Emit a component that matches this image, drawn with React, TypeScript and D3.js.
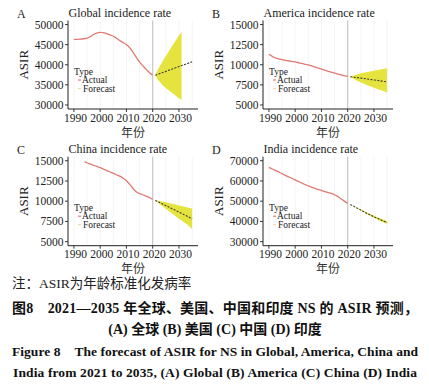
import React from "react";
import * as d3 from "d3";

// years
const actualYears = d3.range(1990, 2021);
const forecastYears = d3.range(2021, 2036);
const xTicks = [1990, 2000, 2010, 2020, 2030];
const gridYears = [1990, 1995, 2000, 2005, 2010, 2015, 2020, 2025, 2030, 2035];

// A Global
const globalActual = [46300, 46300, 46350, 46400, 46500, 46600, 46900, 47300, 47700, 47950, 48050, 48000, 47850, 47600, 47350, 47100, 46700, 46200, 45800, 45400, 45000, 44400, 43600, 42600, 41600, 40700, 39900, 39200, 38500, 37900, 37400];
const globalForecast = [37400, 37650, 37880, 38120, 38350, 38600, 38830, 39080, 39300, 39560, 39800, 40030, 40280, 40500, 40760];
const globalLower = [37400, 36300, 35500, 34800, 34200, 33700, 33200, 32700, 32200, 31700, 31200, 30700, 30200, 29700, 29200];
const globalUpper = [37400, 38800, 40000, 41100, 42200, 43200, 44300, 45300, 46300, 47300, 48200, 50200, 51300, 52400, 53500];

// B America
const usActual = [11300, 11100, 10900, 10800, 10700, 10650, 10580, 10500, 10450, 10400, 10350, 10280, 10200, 10130, 10050, 9980, 9880, 9780, 9680, 9570, 9470, 9360, 9250, 9150, 9050, 8950, 8860, 8780, 8700, 8620, 8540];
const usForecast = [8500, 8460, 8420, 8380, 8340, 8300, 8250, 8200, 8150, 8110, 8070, 8020, 7970, 7920, 7880];
const usLower = [8500, 8300, 8120, 7950, 7800, 7660, 7520, 7390, 7260, 7140, 7020, 6900, 6790, 6680, 6550];
const usUpper = [8500, 8620, 8740, 8840, 8930, 9000, 9080, 9140, 9200, 9260, 9320, 9380, 9440, 9500, 9560];

// C China
const cnActual = [15900, 15600, 15350, 15100, 14900, 14750, 14620, 14500, 14380, 14260, 14140, 14000, 13860, 13720, 13580, 13440, 13300, 13160, 13000, 12780, 12530, 12180, 11790, 11380, 11100, 10950, 10830, 10700, 10560, 10400, 10230];
const cnForecast = [10100, 9940, 9780, 9620, 9460, 9300, 9140, 8980, 8820, 8660, 8500, 8340, 8170, 7990, 7800];
const cnLower = [10100, 9830, 9570, 9310, 9060, 8810, 8560, 8320, 8080, 7840, 7600, 7370, 7140, 6880, 6550];
const cnUpper = [10100, 10050, 9990, 9930, 9860, 9790, 9720, 9640, 9560, 9480, 9400, 9320, 9240, 9160, 9100];

// D India
const inActual = [66700, 66100, 65500, 64900, 64300, 63600, 62900, 62300, 61700, 61100, 60500, 59900, 59300, 58700, 58100, 57600, 57100, 56600, 56100, 55700, 55300, 54900, 54500, 54100, 53700, 53200, 52500, 51600, 50700, 49800, 49000];
const inForecast = [48400, 47700, 47000, 46300, 45600, 44900, 44200, 43600, 42900, 42300, 41700, 41100, 40500, 40000, 39500];
const inLower = [48400, 47600, 46850, 46100, 45350, 44600, 43850, 43200, 42450, 41800, 41150, 40500, 39850, 39300, 38750];
const inUpper = [48400, 47800, 47150, 46500, 45850, 45200, 44550, 44000, 43350, 42800, 42250, 41700, 41150, 40700, 40250];

const SERIF = "'Liberation Serif', 'Times New Roman', serif";
const CJK = "'Liberation Serif', 'Noto Sans CJK SC', sans-serif";

const panels = [
  { label: "A", title: "Global incidence rate", x0: 68, x1: 198, y0: 20.5, y1: 109, lim: [30000, 50000], ticks: [30000, 35000, 40000, 45000, 50000], actual: globalActual, fc: globalForecast, lo: globalLower, hi: globalUpper },
  { label: "B", title: "America incidence rate", x0: 263, x1: 393, y0: 20.5, y1: 109, lim: [5000, 15000], ticks: [5000, 7500, 10000, 12500, 15000], actual: usActual, fc: usForecast, lo: usLower, hi: usUpper },
  { label: "C", title: "China incidence rate", x0: 68, x1: 198, y0: 156.7, y1: 245.7, lim: [5000, 15000], ticks: [5000, 7500, 10000, 12500, 15000], actual: cnActual, fc: cnForecast, lo: cnLower, hi: cnUpper },
  { label: "D", title: "India incidence rate", x0: 263, x1: 393, y0: 156.7, y1: 245.7, lim: [30000, 70000], ticks: [30000, 40000, 50000, 60000, 70000], actual: inActual, fc: inForecast, lo: inLower, hi: inUpper },
];

function Panel({ p }: { p: any }) {
  const x = d3.scaleLinear().domain([1987.75, 2037.25]).range([p.x0, p.x1]);
  const span = p.lim[1] - p.lim[0];
  const y = d3
    .scaleLinear()
    .domain([p.lim[0] - 0.05 * span, p.lim[1] + 0.05 * span])
    .range([p.y1, p.y0]);
  const inLim = (v: number) => v >= p.lim[0] && v <= p.lim[1];

  const actual = actualYears.map((yr, i) => ({ yr, v: p.actual[i] }));
  const fc = forecastYears.map((yr, i) => ({ yr, v: p.fc[i], lo: p.lo[i], hi: p.hi[i] }));

  const line = d3
    .line<any>()
    .defined((d) => inLim(d.v))
    .x((d) => x(d.yr))
    .y((d) => y(d.v))
    .curve(d3.curveMonotoneX);
  const band = d3
    .area<any>()
    .defined((d) => inLim(d.lo) && inLim(d.hi))
    .x((d) => x(d.yr))
    .y0((d) => y(d.lo))
    .y1((d) => y(d.hi));

  const lx = p.x0 + 6;
  const ly = p.y0 + 54;

  return (
    <g>
      {/* faint grid */}
      {gridYears.map((g) => (
        <line key={g} x1={x(g)} x2={x(g)} y1={p.y0} y2={p.y1} stroke="#f1f1f1" strokeWidth={0.8} />
      ))}
      <line x1={x(2020)} x2={x(2020)} y1={p.y0} y2={p.y1} stroke="#c4c4c4" strokeWidth={1.1} />

      <path d={band(fc) || ""} fill="#e3e12e" opacity={0.92} />
      <path d={line(actual) || ""} fill="none" stroke="#e07a72" strokeWidth={1.3} />
      <path d={line(fc) || ""} fill="none" stroke="#3b3b2a" strokeWidth={1.1} strokeDasharray="2,1.4" />

      {/* axes */}
      <line x1={p.x0} x2={p.x0} y1={p.y0} y2={p.y1} stroke="#222" strokeWidth={1} />
      <line x1={p.x0} x2={p.x1} y1={p.y1} y2={p.y1} stroke="#222" strokeWidth={1} />
      {p.ticks.map((t: number) => (
        <g key={t}>
          <line x1={p.x0 - 3} x2={p.x0} y1={y(t)} y2={y(t)} stroke="#222" strokeWidth={0.9} />
          <text x={p.x0 - 4.5} y={y(t)} dy="0.35em" textAnchor="end" fontSize={11.5} fontFamily={SERIF} fill="#222">
            {t}
          </text>
        </g>
      ))}
      {xTicks.map((t) => (
        <g key={t}>
          <line x1={x(t)} x2={x(t)} y1={p.y1} y2={p.y1 + 3} stroke="#222" strokeWidth={0.9} />
          <text x={x(t) + 1.5} y={p.y1 + 12.5} textAnchor="middle" fontSize={11.5} fontFamily={SERIF} fill="#222">
            {t}
          </text>
        </g>
      ))}

      {/* titles */}
      <text x={p.x0 - 51} y={p.y0 - 3} fontSize={12} fontFamily={SERIF} fill="#222">
        {p.label}
      </text>
      <text x={p.x0 + 0.5} y={p.y0 - 3.5} fontSize={12} fontFamily={SERIF} fill="#222">
        {p.title}
      </text>
      <text
        transform={`translate(${p.x0 - 40},${(p.y0 + p.y1) / 2}) rotate(-90)`}
        textAnchor="middle"
        fontSize={13}
        fontFamily={SERIF}
        fill="#222"
      >
        ASIR
      </text>
      <text x={(p.x0 + p.x1) / 2} y={p.y1 + 27.5} textAnchor="middle" fontSize={12} fontFamily={CJK} fill="#333">
        年份
      </text>

      {/* legend */}
      <text x={lx} y={ly} fontSize={9.5} fontFamily={SERIF} fill="#222">Type</text>
      <line x1={lx + 4} x2={lx + 7} y1={ly + 5.5} y2={ly + 5.5} stroke="#e07a72" strokeWidth={1.2} />
      <text x={lx + 8} y={ly + 8.5} fontSize={9.5} fontFamily={SERIF} fill="#222">Actual</text>
      <line x1={lx + 4} x2={lx + 7} y1={ly + 14} y2={ly + 14} stroke="#f1d9b0" strokeWidth={1.2} />
      <text x={lx + 9} y={ly + 17} fontSize={9.5} fontFamily={SERIF} fill="#222">Forecast</text>
    </g>
  );
}

export default function App() {
  return (
    <svg
      width={429}
      height={387}
      style={{ position: "absolute", left: 0, top: 0, background: "#fff" }}
    >
      <rect width={429} height={387} fill="#fff" />
      {panels.map((p) => (
        <Panel key={p.label} p={p} />
      ))}

      <text x={12} y={287.5} fontSize={13.5} fontFamily={CJK} fill="#222">
        注：ASIR为年龄标准化发病率
      </text>
      <text x={12} y={313} fontSize={14} fontWeight="bold" fontFamily={CJK} fill="#111" textLength={406} lengthAdjust="spacing">
        图8　2021—2035 年全球、美国、中国和印度 NS 的 ASIR 预测，
      </text>
      <text x={215} y={334} fontSize={14} fontWeight="bold" fontFamily={CJK} fill="#111" textAnchor="middle">
        (A) 全球 (B) 美国 (C) 中国 (D) 印度
      </text>
      <text x={12} y={355.5} fontSize={13.5} fontWeight="bold" fontFamily={SERIF} fill="#111" textLength={406} lengthAdjust="spacing">
        Figure 8　The forecast of ASIR for NS in Global, America, China and
      </text>
      <text x={13} y={377} fontSize={13.5} fontWeight="bold" fontFamily={SERIF} fill="#111" textLength={404} lengthAdjust="spacing">
        India from 2021 to 2035, (A) Global (B) America (C) China (D) India
      </text>
    </svg>
  );
}
